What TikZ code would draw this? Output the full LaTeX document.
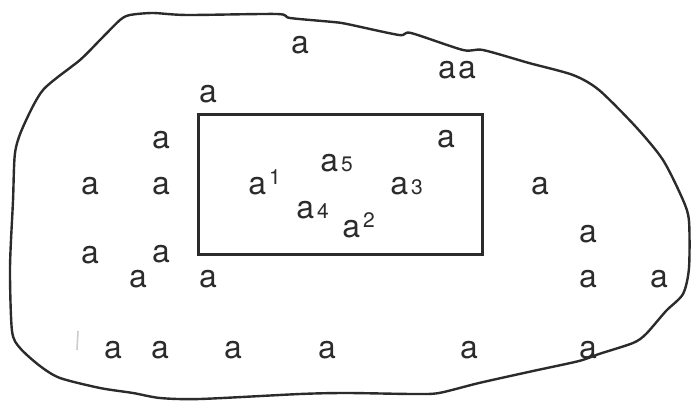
\documentclass[tikz,border=0pt]{standalone}
\usepackage{fontspec}
\setmainfont{TeX Gyre Heros}
\usepackage{tikz}
\definecolor{ink}{HTML}{2B2B2B}
\newcommand{\dg}[1]{\kern1.5pt{\fontsize{10.5}{12}\selectfont #1}}

\begin{document}
\begin{tikzpicture}[x=0.5pt,y=-0.5pt,
    lt/.style={inner sep=0pt,text=ink,font=\fontsize{16}{19}\selectfont},
    ltx/.style={lt,anchor=base west}]
      \useasboundingbox (0,0) rectangle (692,402);
      \draw[ink,line width=1.2pt,line join=round] plot[smooth cycle,tension=0.45] coordinates {
        (130,15) (153,13) (187,15) (277,14) (290,18) (333,22) (347,24) (399,35) (411,33)
        (463,50) (483,50) (529,63) (573,75) (599,90) (636,127) (663,160) (683,200)
        (689,221) (689,268) (683,294) (666,311) (646,334) (633,343) (599,354) (579,361)
        (533,371) (479,383) (439,393) (413,394) (347,393) (300,394) (200,399) (160,398)
        (133,393) (100,388) (60,378) (40,366) (20,348) (12,331) (10,268) (13,201)
        (15,153) (23,127) (43,90) (80,60) (100,40) (120,20)};
      \draw[ink,line width=1.5pt] (198,114) rectangle (482,254);
      \draw[black!20,line width=0.8pt] (78,331) -- (77,350);
      \foreach \x/\y [count=\i] in {300/45, 447/70, 467/70, 208/94, 446/139, 161/140,
          90/186, 161/186, 540/186, 588/234, 90/255, 161/254, 138/279, 208/279,
          588/279, 659/279, 113/350, 160/350, 233/350, 327/350, 469/350, 588/350}
        \node[lt] (a\i) at (\x,\y) {a};
      \node[ltx] (a1s) at (248,194) {a\raisebox{5pt}{\dg{1}}};
      \node[ltx] (a2s) at (342,237) {a\raisebox{5pt}{\dg{2}}};
      \node[ltx] (a3s) at (390,194) {a\dg{3}};
      \node[ltx] (a4s) at (296,218) {a\dg{4}};
      \node[ltx] (a5s) at (320,171) {a\dg{5}};
    \end{tikzpicture}
\end{document}
